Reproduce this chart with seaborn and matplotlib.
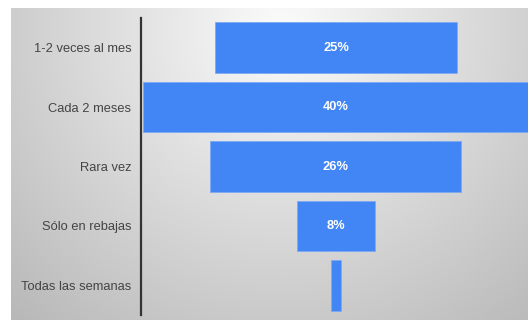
import numpy as np
import matplotlib
matplotlib.use("Agg")
import matplotlib.pyplot as plt
import seaborn as sns

categories = ["1-2 veces al mes", "Cada 2 meses", "Rara vez", "Sólo en rebajas", "Todas las semanas"]
values = [25, 40, 26, 8, 1]
bar_labels = ["25%", "40%", "26%", "8%", ""]

sns.set_theme(style="white")
plt.rcParams["font.family"] = ["Liberation Sans", "DejaVu Sans"]

W, H = 528, 322
fig = plt.figure(figsize=(W / 100, H / 100), dpi=100)
fig.patch.set_facecolor("white")

# gradient background panel
bg = fig.add_axes([11 / W, 2 / H, 517 / W, 312 / H])
yy, xx = np.mgrid[0:312, 0:517]
cx, cy = 270, 20
d = np.sqrt(((xx - cx) / 330.0) ** 2 + ((yy - cy) / 330.0) ** 2)
g = 0.985 - 0.22 * np.clip(d, 0, 1.3)
bg.imshow(np.dstack([g, g, g]), aspect="auto", interpolation="bilinear")
bg.set_axis_off()

ax = fig.add_axes([141 / W, (H - 315) / H, (528 - 141) / W, (315 - 18) / H])
ax.patch.set_alpha(0)

sns.barplot(x=values, y=categories, orient="h", color="#4285f4", width=0.85,
            saturation=1, edgecolor="#7fa9f5", linewidth=0.6, ax=ax)
for p, v in zip(ax.patches, values):
    p.set_x(-v / 2)

for i, (v, lab) in enumerate(zip(values, bar_labels)):
    if lab:
        ax.text(0, i, lab, ha="center", va="center", color="white",
                fontsize=9.3, fontweight="semibold")

ax.set_xlim(-20.2, 19.9)
ax.set_ylim(4.5, -0.5)
ax.set_xticks([])
ax.set_xlabel("")
ax.set_ylabel("")
for s in ["top", "right", "bottom"]:
    ax.spines[s].set_visible(False)
ax.spines["left"].set_color("#333333")
ax.spines["left"].set_linewidth(1.6)
ax.tick_params(axis="y", length=0, pad=7, labelsize=9.3, labelcolor="#444444")

fig.savefig("out.png", dpi=100)
